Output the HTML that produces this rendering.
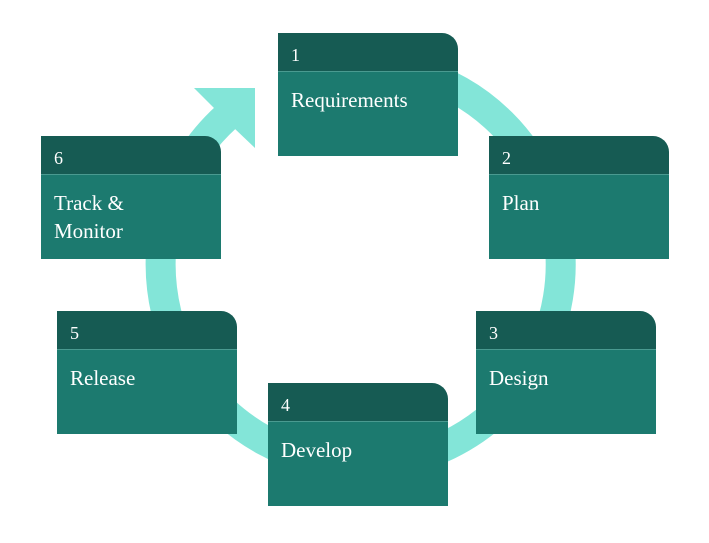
<!DOCTYPE html>
<html><head><style>
body{margin:0;width:709px;height:543px;background:#fff;position:relative;overflow:hidden;font-family:"Liberation Serif",serif;}
.b{position:absolute;width:180px;height:123px;}
.h{height:38px;background:#165b53;border-top-right-radius:16px;color:#fff;font-size:18px;line-height:44px;padding-left:13px;box-sizing:border-box;}
.c{height:85px;background:#1c7a6f;border-top:1px solid #4a9a90;color:#fff;font-size:21px;line-height:28px;padding:14px 13px;box-sizing:border-box;}
</style></head><body>
<svg width="709" height="543" style="position:absolute;left:0;top:0">
<path d="M226.5,116.7 A200,200 0 1,0 326.3,68" fill="none" stroke="#83e5d8" stroke-width="30"/>
<polygon points="194,88 255,88 255,148 234,128 213,107" fill="#83e5d8"/>
</svg>
<div class="b" style="left:278px;top:33px"><div class="h">1</div><div class="c">Requirements</div></div>
<div class="b" style="left:489px;top:136px"><div class="h">2</div><div class="c">Plan</div></div>
<div class="b" style="left:476px;top:311px"><div class="h">3</div><div class="c">Design</div></div>
<div class="b" style="left:268px;top:383px"><div class="h">4</div><div class="c">Develop</div></div>
<div class="b" style="left:57px;top:311px"><div class="h">5</div><div class="c">Release</div></div>
<div class="b" style="left:41px;top:136px"><div class="h">6</div><div class="c">Track &amp;<br>Monitor</div></div>
</body></html>
